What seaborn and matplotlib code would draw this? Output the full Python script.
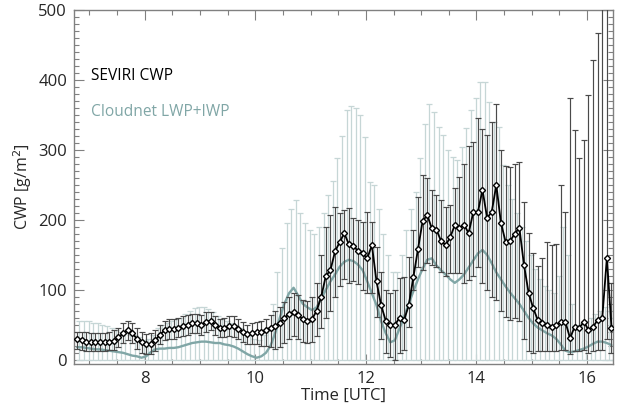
import numpy as np
import pandas as pd
import matplotlib
matplotlib.use("Agg")
import matplotlib.pyplot as plt
import seaborn as sns
from matplotlib.ticker import MultipleLocator

# ---- data (5-min sampling grid, hours UTC) ----
t_start = 6.775
step_h = 5.0 / 60.0
n_pts = 117

seviri_cwp = [30, 28, 26, 25, 25, 25, 26, 26, 27, 32,
              38, 42, 38, 30, 25, 22, 23, 28, 36, 42,
              44, 44, 46, 48, 50, 52, 52, 50, 54, 56,
              50, 45, 46, 48, 48, 44, 40, 37, 38, 40,
              40, 42, 46, 48, 52, 60, 65, 68, 64, 58,
              56, 58, 70, 90, 120, 128, 155, 168, 181, 165,
              163, 155, 152, 145, 164, 112, 78, 56, 50, 50,
              60, 57, 78, 118, 158, 198, 207, 188, 186, 170,
              164, 175, 193, 188, 193, 181, 211, 211, 243, 203,
              211, 250, 196, 169, 170, 180, 189, 136, 96, 74,
              57, 53, 50, 47, 50, 54, 54, 31, 47, 46,
              54, 43, 47, 57, 60, 146, 46]
seviri_high = [40, 40, 40, 38, 38, 38, 38, 40, 42, 46,
               52, 55, 52, 45, 40, 37, 38, 42, 50, 56,
               58, 58, 60, 62, 64, 66, 66, 64, 68, 68,
               63, 58, 60, 62, 62, 58, 54, 50, 52, 54,
               56, 58, 64, 70, 75, 82, 90, 95, 92, 86,
               84, 90, 110, 150, 190, 207, 219, 210, 214, 217,
               203, 200, 197, 211, 197, 161, 125, 100, 96, 100,
               117, 119, 147, 186, 233, 264, 260, 243, 235, 229,
               219, 221, 246, 261, 280, 305, 311, 346, 330, 321,
               340, 366, 300, 277, 276, 280, 283, 226, 181, 153,
               134, 146, 169, 164, 165, 250, 211, 374, 329, 289,
               314, 379, 429, 467, 520, 520, 110]
seviri_low = [15, 14, 12, 12, 12, 12, 13, 14, 14, 18,
              24, 28, 24, 16, 10, 8, 8, 13, 22, 28,
              30, 30, 32, 34, 36, 38, 38, 36, 40, 42,
              36, 32, 32, 34, 33, 30, 26, 22, 22, 22,
              20, 20, 18, 16, 18, 24, 30, 34, 30, 26,
              24, 26, 34, 45, 60, 70, 90, 105, 115, 110,
              112, 108, 100, 95, 96, 61, 30, 10, 4, 0,
              10, 14, 47, 100, 133, 129, 139, 135, 132, 125,
              120, 124, 124, 124, 110, 114, 120, 133, 110, 100,
              90, 86, 70, 61, 57, 60, 55, 30, 12, 10,
              12, 12, 12, 12, 12, 14, 14, 8, 12, 12,
              14, 10, 12, 14, 14, 30, 10]

cloudnet_cwp = [18, 18, 17, 16, 15, 15, 14, 13, 12, 11,
                10, 8, 6, 5, 3, 5, 11, 15, 16, 16,
                17, 17, 18, 20, 22, 24, 25, 26, 26, 25,
                24, 24, 22, 21, 19, 16, 12, 8, 5, 3,
                5, 10, 20, 38, 60, 80, 95, 103, 92, 80,
                75, 71, 75, 88, 100, 112, 122, 133, 140, 143,
                141, 136, 128, 112, 95, 78, 55, 38, 25, 28,
                45, 62, 80, 98, 115, 130, 143, 145, 135, 128,
                122, 115, 110, 115, 122, 132, 142, 152, 157, 150,
                138, 125, 115, 105, 96, 88, 80, 70, 60, 52,
                46, 42, 38, 35, 30, 22, 13, 11, 12, 14,
                16, 19, 23, 26, 26, 24, 21]
cloudnet_high = [55, 55, 55, 52, 52, 50, 48, 45, 42, 40,
                 38, 36, 35, 32, 28, 30, 35, 45, 50, 52,
                 55, 58, 60, 65, 70, 74, 75, 75, 72, 68,
                 62, 58, 55, 52, 50, 45, 40, 35, 30, 28,
                 35, 45, 80, 125, 160, 195, 215, 228, 210, 195,
                 185, 180, 190, 210, 235, 255, 289, 320, 357, 363,
                 360, 350, 319, 254, 250, 215, 180, 150, 125, 125,
                 150, 185, 215, 240, 289, 337, 366, 354, 333, 321,
                 300, 290, 286, 304, 331, 357, 374, 397, 397, 369,
                 340, 333, 279, 250, 230, 210, 190, 170, 150, 130,
                 115, 105, 100, 95, 120, 190, 150, 80, 50, 52,
                 55, 60, 65, 70, 75, 70, 60]
cloudnet_low = [0] * n_pts

x_ticks = [8, 10, 12, 14, 16]
y_ticks = [0, 100, 200, 300, 400, 500]

# ---- build frame ----
time_utc = t_start + step_h * np.arange(n_pts)
df = pd.DataFrame({
    "time": time_utc,
    "seviri": seviri_cwp, "s_hi": seviri_high, "s_lo": seviri_low,
    "cloudnet": cloudnet_cwp, "c_hi": cloudnet_high, "c_lo": cloudnet_low,
})

sns.set_style("ticks")
plt.rcParams["font.family"] = ["Open Sans", "DejaVu Sans"]

fig = plt.figure(figsize=(6.18, 4.09), dpi=100)
ax = fig.add_axes([0.1197, 0.110, 0.8723, 0.8656])

teal = "#80a6a6"
light = "#c6d6d6"
dark = "#4a4a4a"

# Cloudnet error bars (light)
ax.errorbar(df["time"] + step_h / 2, df["cloudnet"],
            yerr=[df["cloudnet"] - df["c_lo"], df["c_hi"] - df["cloudnet"]],
            fmt="none", ecolor=light, elinewidth=0.9, capsize=2, capthick=0.9,
            zorder=1)
# Cloudnet line
sns.lineplot(data=df, x="time", y="cloudnet", color=teal, linewidth=1.7,
             ax=ax, zorder=3, sort=False)
# SEVIRI error bars (dark)
ax.errorbar(df["time"], df["seviri"],
            yerr=[df["seviri"] - df["s_lo"], df["s_hi"] - df["seviri"]],
            fmt="none", ecolor=dark, elinewidth=0.85, capsize=2, capthick=0.85,
            zorder=4)
# SEVIRI line with open diamonds
sns.lineplot(data=df, x="time", y="seviri", color="black", linewidth=1.3,
             marker="D", markersize=3.1, markerfacecolor="white",
             markeredgecolor="black", markeredgewidth=1.0,
             ax=ax, zorder=5, sort=False)

ax.set_xlim(6.72, 16.47)
ax.set_ylim(-6, 500)
ax.set_xticks(x_ticks)
ax.set_yticks(y_ticks)
ax.xaxis.set_minor_locator(MultipleLocator(0.5))
ax.yaxis.set_minor_locator(MultipleLocator(10))
ax.tick_params(which="both", direction="in", top=True, right=True,
               color="#808080", width=0.8, labelsize=12, pad=5)
ax.tick_params(which="major", length=7)
ax.tick_params(which="minor", length=3.5)
for sp in ax.spines.values():
    sp.set_color("#808080")
    sp.set_linewidth(1.0)

ax.set_xlabel("Time [UTC]", fontsize=12, labelpad=1)
ax.set_ylabel("CWP [g/m$^2$]", fontsize=11.5, labelpad=3)

ax.text(7.03, 406, "SEVIRI CWP", fontsize=11.2, color="black", va="center")
ax.text(7.03, 354, "Cloudnet LWP+IWP", fontsize=11.2, color=teal, va="center")

fig.savefig("out.png", dpi=100)
